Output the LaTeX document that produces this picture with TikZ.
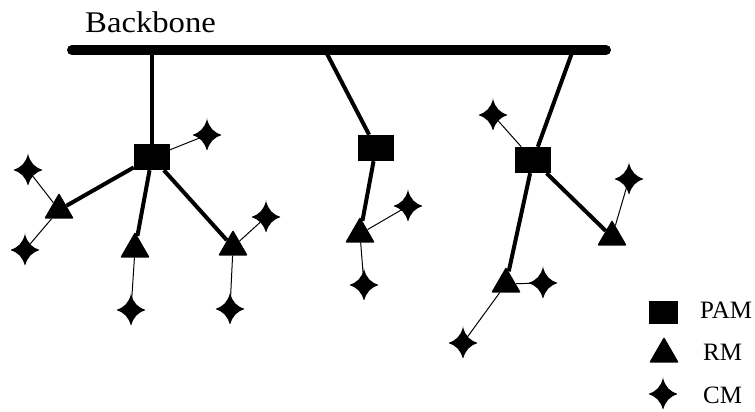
\documentclass[tikz,border=0pt]{standalone}
\usepackage{fontspec}
\setmainfont{Liberation Serif}
\usetikzlibrary{shapes.geometric}
\begin{document}
\begin{tikzpicture}[x=1pt,y=-1pt,
  pamnode/.style={rectangle, fill=black, inner sep=0pt, minimum width=36pt, minimum height=26pt},
  rmnode/.style={regular polygon, regular polygon sides=3, fill=black, inner sep=0pt, minimum size=34pt, rounded corners=1pt},
  cmnode/.style={circle, fill=black, inner sep=0pt, minimum size=11pt,
    append after command={\pgfextra{\fill[shift={(\tikzlastnode.center)}, rounded corners=0.8pt] (0,-16) .. controls (2.5,-7) and (7,-2.5) .. (15,0) .. controls (7,2.5) and (2.5,7) .. (0,16) .. controls (-2.5,7) and (-7,2.5) .. (-15,0) .. controls (-7,-2.5) and (-2.5,-7) .. (0,-16) -- cycle;}}},
  trunk/.style={line width=4pt},
  link/.style={line width=1pt},
  bus/.style={line width=10pt, line cap=round},
  lbl/.style={font=\fontsize{25}{25}\selectfont, anchor=base west, inner sep=0pt}
]
\useasboundingbox (0,0) rectangle (755,412);

% backbone
\coordinate (bbL) at (72,50);
\coordinate (bbR) at (606,50);
\coordinate (b1) at (152,50);
\coordinate (b2) at (325,50);
\coordinate (b3) at (573,50);
\draw[bus] (bbL) -- (bbR);
\node[font=\fontsize{30}{30}\selectfont, anchor=base west, inner sep=0pt] (title) at (85,33) {\scalebox{1.09}[1]{Backbone}};

% PAM nodes
\node[pamnode] (pam1) at (152,157) {};
\node[pamnode] (pam2) at (376,148) {};
\node[pamnode] (pam3) at (533,160) {};

% RM nodes
\node[rmnode] (rl)  at (59,210) {};
\node[rmnode] (rm1) at (135,249) {};
\node[rmnode] (rr)  at (233,247) {};
\node[rmnode] (rm2) at (360,234) {};
\node[rmnode] (r3a) at (612,237) {};
\node[rmnode] (r3b) at (506,284) {};

% CM nodes
\node[cmnode] (c1)  at (207,135) {};
\node[cmnode] (c2)  at (28,170) {};
\node[cmnode] (c3)  at (25,250) {};
\node[cmnode] (c4)  at (131,310) {};
\node[cmnode] (c5)  at (266,217) {};
\node[cmnode] (c6)  at (230,309) {};
\node[cmnode] (c7)  at (408,206) {};
\node[cmnode] (c8)  at (364,285) {};
\node[cmnode] (c9)  at (493,115) {};
\node[cmnode] (c10) at (629,179) {};
\node[cmnode] (c11) at (543,283) {};
\node[cmnode] (c12) at (463,343) {};

% trunk connectors
\draw[trunk] (b1) -- (pam1);
\draw[trunk] (b2) -- (pam2);
\draw[trunk] (b3) -- (pam3);
\draw[trunk] (pam1) -- (rl);
\draw[trunk] (pam1) -- (rm1);
\draw[trunk] (pam1) -- (rr);
\draw[trunk] (pam2) -- (rm2);
\draw[trunk] (pam3) -- (r3a);
\draw[trunk] (pam3) -- (r3b);

% thin links
\draw[link] (pam1) -- (c1);
\draw[link] (rl) -- (c2);
\draw[link] (rl) -- (c3);
\draw[link] (rm1) -- (c4);
\draw[link] (rr) -- (c5);
\draw[link] (rr) -- (c6);
\draw[link] (rm2) -- (c7);
\draw[link] (rm2) -- (c8);
\draw[link] (pam3) -- (c9);
\draw[link] (r3a) -- (c10);
\draw[link] (r3b) -- (c11);
\draw[link] (r3b) -- (c12);

% legend
\node[pamnode, minimum width=29pt, minimum height=23pt] (lpam) at (663.5,312.5) {};
\node[rmnode] (lrm) at (664,354) {};
\node[cmnode] (lcm) at (663,394) {};
\node[lbl] (tpam) at (700,318) {PAM};
\node[lbl] (trm) at (703,360) {RM};
\node[lbl] (tcm) at (703,403) {CM};
\end{tikzpicture}
\end{document}
